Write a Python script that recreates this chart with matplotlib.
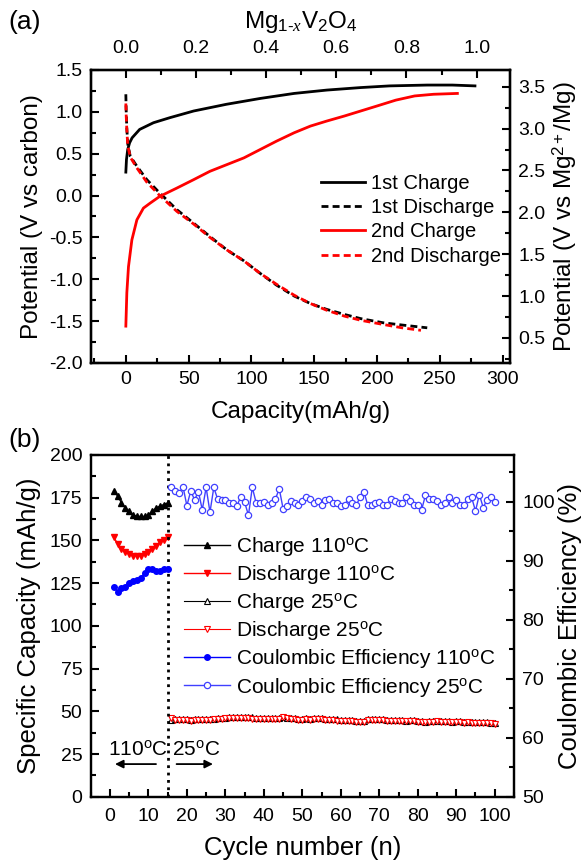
import matplotlib
matplotlib.use('Agg')
import matplotlib.pyplot as plt
from matplotlib.ticker import MultipleLocator

plt.rcParams['font.family'] = ['Liberation Sans', 'DejaVu Sans']
plt.rcParams['mathtext.fontset'] = 'custom'
plt.rcParams['mathtext.rm'] = 'Liberation Sans'
plt.rcParams['mathtext.it'] = 'Liberation Serif:italic'
plt.rcParams['axes.linewidth'] = 1.6

# ---- panel (a): voltage profiles ----
cap_1c = [0, 0.5, 1.5, 3, 5, 11, 22, 35, 54, 80, 107, 134, 160, 187, 210, 240, 260, 278]
v_1c = [0.28, 0.43, 0.55, 0.63, 0.69, 0.79, 0.87, 0.93, 1.01, 1.09, 1.16, 1.22, 1.26, 1.29, 1.31, 1.32, 1.32, 1.31]

cap_1d = [0, 0.3, 0.8, 1.5, 3.5, 8.8, 16.7, 27, 40.7, 54, 67, 80.5, 94, 107, 120, 134, 147, 160, 174, 187, 205, 222, 240]
v_1d = [1.21, 1.0, 0.8, 0.62, 0.47, 0.35, 0.19, 0.03, -0.17, -0.33, -0.49, -0.65, -0.78, -0.93, -1.07, -1.20,
        -1.29, -1.36, -1.42, -1.47, -1.52, -1.55, -1.58]

cap_2c = [0, 0.8, 2.1, 4.8, 8.8, 14, 19.4, 27, 40.7, 54, 67, 80.5, 94, 107, 120, 134, 147, 160, 174, 187,
          200, 215, 230, 245, 264]
v_2c = [-1.56, -1.16, -0.85, -0.53, -0.29, -0.15, -0.09, -0.01, 0.09, 0.19, 0.29, 0.37, 0.45, 0.55, 0.65,
        0.75, 0.83, 0.89, 0.95, 1.01, 1.07, 1.14, 1.19, 1.21, 1.22]

cap_2d = [0, 0.3, 0.8, 1.5, 3.5, 8.8, 16.7, 27, 40.7, 54, 67, 80.5, 94, 107, 120, 134, 147, 160, 174, 187, 205, 220, 235]
v_2d = [1.10, 0.95, 0.78, 0.60, 0.46, 0.33, 0.16, 0.0, -0.19, -0.34, -0.50, -0.65, -0.78, -0.93, -1.06, -1.19,
        -1.29, -1.37, -1.44, -1.49, -1.54, -1.58, -1.61]

cap_full = 279.3   # capacity at x = 1 in Mg(1-x)V2O4
offset_mg = 2.2    # V vs Mg = V vs carbon + offset

# ---- panel (b): cycling ----
cyc_110 = list(range(1, 16))
chg_110 = [179, 176, 172, 169, 167, 165, 164, 164, 164, 165, 167, 169, 170, 171, 172]
dis_110 = [152, 148, 145, 143, 142, 141, 141, 141, 142, 143, 145, 147, 149, 150, 152]
ce_110 = [85.6, 84.7, 85.3, 85.6, 86.2, 86.5, 86.8, 87.1, 87.9, 88.5, 88.5, 88.2, 88.2, 88.5, 88.5]

cyc_25 = list(range(16, 101))
chg_25 = [44.8, 45.2, 45.3, 45.4, 45.2, 45.0, 45.3, 45.5, 45.6, 45.4,
          45.5, 45.7, 46.0, 46.2, 46.3, 46.5, 46.4, 46.5, 46.6, 46.4,
          46.5, 46.8, 46.3, 46.2, 46.0, 46.1, 45.9, 45.8, 45.9, 46.7,
          46.3, 45.9, 45.8, 45.6, 45.7, 45.8, 45.6, 45.9, 46.0, 45.8,
          45.7, 45.5, 45.3, 45.2, 45.0, 44.9, 44.8, 44.7, 44.6, 44.5,
          44.4, 45.3, 45.5, 45.4, 45.2, 45.3, 45.0, 44.9, 44.8, 44.9,
          44.8, 44.6, 44.7, 44.8, 44.5, 44.2, 44.0, 44.3, 44.5, 44.6,
          44.4, 44.5, 44.2, 44.0, 44.3, 44.1, 43.9, 44.0, 43.8, 43.9,
          43.6, 43.8, 43.5, 43.4, 43.3]
dis_25 = [46.2, 44.8, 44.9, 45.0, 44.8, 44.6, 44.9, 45.1, 45.0, 44.9,
          45.1, 45.3, 45.5, 45.7, 45.8, 45.9, 45.8, 45.9, 46.0, 45.8,
          45.9, 45.3, 45.7, 45.6, 45.4, 45.5, 45.3, 45.2, 45.4, 46.5,
          45.8, 45.4, 45.2, 45.0, 45.1, 45.2, 45.0, 45.3, 45.4, 45.2,
          45.1, 44.9, 44.7, 44.6, 44.4, 44.3, 44.2, 44.1, 44.0, 43.9,
          43.8, 44.8, 45.0, 44.9, 44.7, 44.8, 44.5, 44.4, 44.3, 44.4,
          44.3, 44.1, 44.2, 44.3, 44.0, 43.7, 43.5, 43.8, 44.0, 44.1,
          43.9, 44.0, 43.7, 43.5, 43.8, 43.6, 43.4, 43.5, 43.3, 43.4,
          43.1, 43.3, 43.0, 42.9, 42.8]
ce_25 = [102.4, 101.8, 101.4, 102.5, 99.3, 101.8, 100.3, 101.7, 98.6, 102.4,
         98.2, 102.4, 100.4, 100.3, 100.3, 99.8, 99.8, 99.3, 100.8, 99.9,
         97.7, 102.4, 99.8, 99.8, 99.9, 99.4, 99.8, 100.4, 102.2, 98.8,
         99.3, 100.1, 99.8, 99.4, 100.1, 100.8, 100.4, 99.8, 100.1, 99.4,
         100.3, 100.4, 99.8, 99.7, 99.3, 99.5, 100.4, 99.8, 99.4, 100.7,
         101.7, 99.4, 99.4, 99.8, 99.9, 99.4, 99.4, 100.5, 100.1, 99.8,
         99.7, 100.7, 100.1, 99.5, 99.4, 98.6, 101.1, 100.5, 100.4, 100.1,
         99.5, 99.8, 100.8, 99.7, 100.3, 99.4, 99.5, 100.5, 100.7, 98.4,
         101.2, 99.0, 100.3, 100.7, 99.9]

TICK = 14
LABEL = 17.5

fig = plt.figure(figsize=(5.85, 8.63), dpi=100)


def style(ax, pad=6, **kw):
    ax.tick_params(which='both', direction='in', labelsize=TICK, width=1.5, pad=pad, **kw)
    ax.tick_params(which='major', length=6)
    ax.tick_params(which='minor', length=3.5)


# ---------------- (a) ----------------
ax1 = fig.add_axes([0.155, 0.5794, 0.717, 0.3395])
ax1.plot(cap_1c, v_1c, color='k', lw=2, label='1st Charge')
ax1.plot(cap_1d, v_1d, color='k', lw=2, ls=(0, (2.5, 1.5)), label='1st Discharge')
ax1.plot(cap_2c, v_2c, color='red', lw=2, label='2nd Charge')
ax1.plot(cap_2d, v_2d, color='red', lw=2, ls=(0, (2.5, 1.5)), label='2nd Discharge')
xmin, xmax = -28, 306
ax1.set_xlim(xmin, xmax)
ax1.set_ylim(-2.0, 1.5)
ax1.xaxis.set_major_locator(MultipleLocator(50))
ax1.xaxis.set_minor_locator(MultipleLocator(25))
ax1.yaxis.set_major_locator(MultipleLocator(0.5))
ax1.yaxis.set_minor_locator(MultipleLocator(0.25))
ax1.yaxis.set_major_formatter(lambda v, p: f'{v:.1f}')
style(ax1, top=False, right=False)
ax1.set_xlabel('Capacity(mAh/g)', fontsize=LABEL, labelpad=9)
ax1.set_ylabel('Potential (V vs carbon)', fontsize=LABEL, labelpad=4)
ax1.legend(loc='upper left', bbox_to_anchor=(0.53, 0.674), frameon=False, fontsize=14.5,
           handlelength=2.2, handletextpad=0.3, labelspacing=0.27, borderaxespad=0)

ax1r = ax1.twinx()
ax1r.set_ylim(-2.0 + offset_mg, 1.5 + offset_mg)
ax1r.set_yticks([0.5, 1.0, 1.5, 2.0, 2.5, 3.0, 3.5])
ax1r.yaxis.set_minor_locator(MultipleLocator(0.25))
ax1r.yaxis.set_major_formatter(lambda v, p: f'{v:.1f}')
style(ax1r)
ax1r.set_ylabel(r'Potential (V vs Mg$^{2+}$/Mg)', fontsize=LABEL, labelpad=3)

ax1t = ax1.twiny()
ax1t.set_xlim(xmin / cap_full, xmax / cap_full)
ax1t.set_xticks([0.0, 0.2, 0.4, 0.6, 0.8, 1.0])
ax1t.xaxis.set_minor_locator(MultipleLocator(0.1))
ax1t.xaxis.set_major_formatter(lambda v, p: f'{v:.1f}')
style(ax1t, pad=9)
ax1t.set_xlabel(r'Mg$_{\mathit{1}\text{-}\mathit{x}}$V$_\mathrm{2}$O$_\mathrm{4}$', fontsize=LABEL, labelpad=9)

fig.text(0.015, 0.975, '(a)', fontsize=19, va='center')

# ---------------- (b) ----------------
ax2 = fig.add_axes([0.155, 0.0768, 0.7236, 0.396])
ax2.plot(cyc_110, chg_110, color='k', marker='^', ms=4.5, lw=1, label=r'Charge 110$^\mathrm{o}$C')
ax2.plot(cyc_110, dis_110, color='red', marker='v', ms=4.5, lw=1, label=r'Discharge 110$^\mathrm{o}$C')
ax2.plot(cyc_25, chg_25, color='k', marker='^', ms=4, mfc='white', mew=0.8, lw=0.8,
         label=r'Charge 25$^\mathrm{o}$C')
ax2.plot(cyc_25, dis_25, color='red', marker='v', ms=4, mfc='white', mew=0.8, lw=0.8,
         label=r'Discharge 25$^\mathrm{o}$C')
ax2.axvline(15, color='k', ls=':', lw=2)
ax2.set_xlim(-5, 105)
ax2.set_ylim(0, 200)
ax2.xaxis.set_major_locator(MultipleLocator(10))
ax2.xaxis.set_minor_locator(MultipleLocator(5))
ax2.yaxis.set_major_locator(MultipleLocator(25))
ax2.yaxis.set_minor_locator(MultipleLocator(12.5))
style(ax2, top=False, right=False)
ax2.tick_params(axis='x', pad=8)
ax2.set_xlabel('Cycle number (n)', fontsize=LABEL + 1, labelpad=8)
ax2.set_ylabel('Specific Capacity (mAh/g)', fontsize=LABEL + 1, labelpad=6)

ax2.annotate('', xy=(0.6, 19.1), xytext=(12.7, 19.1),
             arrowprops=dict(arrowstyle='-|>', color='k', lw=1.3, mutation_scale=12))
ax2.annotate('', xy=(27.5, 19.1), xytext=(16.6, 19.1),
             arrowprops=dict(arrowstyle='-|>', color='k', lw=1.3, mutation_scale=12))
ax2.text(7.3, 27.3, r'110$^\mathrm{o}$C', fontsize=15, ha='center', va='center')
ax2.text(22.5, 27.3, r'25$^\mathrm{o}$C', fontsize=15, ha='center', va='center')

ax2r = ax2.twinx()
ax2r.plot(cyc_110, ce_110, color='blue', marker='o', ms=4, lw=1, label=r'Coulombic Efficiency 110$^\mathrm{o}$C')
ax2r.plot(cyc_25, ce_25, color='#4040ff', marker='o', ms=4.5, mfc='white', mew=0.9, lw=1,
          label=r'Coulombic Efficiency 25$^\mathrm{o}$C')
ax2r.set_ylim(50, 107.9)
ax2r.set_yticks([50, 60, 70, 80, 90, 100])
ax2r.yaxis.set_minor_locator(MultipleLocator(5))
style(ax2r)
ax2r.set_ylabel('Coulombic Efficiency (%)', fontsize=LABEL + 1, labelpad=2)

h1, l1 = ax2.get_legend_handles_labels()
h2, l2 = ax2r.get_legend_handles_labels()
ax2r.legend(h1 + h2, l1 + l2, loc='upper left', bbox_to_anchor=(0.2, 0.79), frameon=False,
            fontsize=15, numpoints=1, handlelength=2.2, handletextpad=0.3, labelspacing=0.245,
            borderaxespad=0)

fig.text(0.015, 0.49, '(b)', fontsize=19, va='center')

fig.savefig('out.png', dpi=100)
